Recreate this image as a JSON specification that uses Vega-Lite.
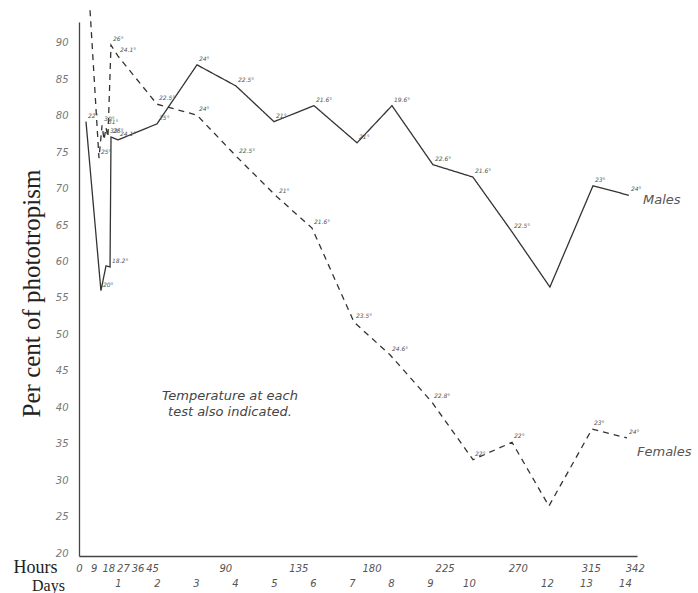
{
  "$schema": "https://vega.github.io/schema/vega-lite/v6.json",
  "width": 558,
  "height": 534,
  "autosize": {"type": "none"},
  "padding": {"left": 79, "top": 22, "right": 61, "bottom": 37},
  "background": "white",
  "config": {"view": {"stroke": null}, "axis": {"grid": false}},
  "datasets": {
    "pts": [
      {"s": "Males", "h": 4.3, "v": 79.2, "t": "22°"},
      {"s": "Males", "h": 13.5, "v": 56.0, "t": "20°"},
      {"s": "Males", "h": 16.6, "v": 59.4, "t": ""},
      {"s": "Males", "h": 19.1, "v": 59.25, "t": "18.2°"},
      {"s": "Males", "h": 19.7, "v": 77.1, "t": "26°"},
      {"s": "Males", "h": 24.0, "v": 76.7, "t": "24.1°"},
      {"s": "Males", "h": 48.0, "v": 78.9, "t": "25°"},
      {"s": "Males", "h": 72.6, "v": 87.0, "t": "24°"},
      {"s": "Males", "h": 96.6, "v": 84.1, "t": "22.5°"},
      {"s": "Males", "h": 120.0, "v": 79.2, "t": "21°"},
      {"s": "Males", "h": 144.6, "v": 81.4, "t": "21.6°"},
      {"s": "Males", "h": 171.1, "v": 76.3, "t": "21°"},
      {"s": "Males", "h": 192.6, "v": 81.4, "t": "19.6°"},
      {"s": "Males", "h": 217.8, "v": 73.3, "t": "22.6°"},
      {"s": "Males", "h": 242.4, "v": 71.6, "t": "21.6°"},
      {"s": "Males", "h": 266.4, "v": 64.1, "t": "22.5°"},
      {"s": "Males", "h": 289.8, "v": 56.5, "t": ""},
      {"s": "Males", "h": 316.3, "v": 70.4, "t": "23°"},
      {"s": "Males", "h": 338.4, "v": 69.1, "t": "24°"},
      {"s": "Females", "h": 6.8, "v": 94.5, "t": ""},
      {"s": "Females", "h": 12.3, "v": 74.2, "t": "25°"},
      {"s": "Females", "h": 14.2, "v": 78.7, "t": "30°"},
      {"s": "Females", "h": 15.4, "v": 76.7, "t": ""},
      {"s": "Females", "h": 16.6, "v": 78.4, "t": "31°"},
      {"s": "Females", "h": 17.8, "v": 77.1, "t": "33°"},
      {"s": "Females", "h": 19.7, "v": 89.7, "t": "26°"},
      {"s": "Females", "h": 24.0, "v": 88.2, "t": "24.1°"},
      {"s": "Females", "h": 48.0, "v": 81.6, "t": "22.5°"},
      {"s": "Females", "h": 72.6, "v": 80.1, "t": "24°"},
      {"s": "Females", "h": 97.2, "v": 74.35, "t": "22.5°"},
      {"s": "Females", "h": 121.8, "v": 68.9, "t": "21°"},
      {"s": "Females", "h": 143.4, "v": 64.6, "t": "21.6°"},
      {"s": "Females", "h": 169.2, "v": 51.7, "t": "23.5°"},
      {"s": "Females", "h": 191.4, "v": 47.2, "t": "24.6°"},
      {"s": "Females", "h": 217.2, "v": 40.7, "t": "22.8°"},
      {"s": "Females", "h": 242.5, "v": 32.8, "t": "22°"},
      {"s": "Females", "h": 266.5, "v": 35.2, "t": "22°"},
      {"s": "Females", "h": 289.2, "v": 26.45, "t": ""},
      {"s": "Females", "h": 315.7, "v": 37.0, "t": "23°"},
      {"s": "Females", "h": 337.2, "v": 35.8, "t": "24°"}
    ],
    "names": [
      {"h": 347.1, "v": 68.45, "txt": "Males"},
      {"h": 343.4, "v": 33.9, "txt": "Females"}
    ],
    "note": [
      {"h": 92.9, "v": 41.55, "txt": "Temperature at each\ntest also indicated."}
    ]
  },
  "encoding": {
    "x": {"field": "h", "type": "quantitative", "scale": {"domain": [0, 343.4], "nice": false, "zero": false}, "axis": null},
    "y": {
      "field": "v", "type": "quantitative",
      "scale": {"domain": [19.59, 92.88], "nice": false, "zero": false},
      "axis": {
        "values": [20, 25, 30, 35, 40, 45, 50, 55, 60, 65, 70, 75, 80, 85, 90],
        "ticks": false, "labelPadding": 11, "labelFontSize": 10, "labelFont": "DejaVu Sans",
        "labelFontStyle": "italic", "labelColor": "#777", "labelBaseline": "middle",
        "domainColor": "#444", "domainWidth": 1.3,
        "title": "Per cent of phototropism", "titleFont": "Liberation Serif", "titleFontSize": 25,
        "titleFontWeight": "normal", "titleColor": "#222", "titleAngle": -90,
        "titleX": -48, "titleY": 271, "titleAlign": "center", "titleBaseline": "middle"
      }
    }
  },
  "layer": [
    {
      "data": {"name": "pts"},
      "mark": {"type": "line", "color": "#333", "strokeWidth": 1.3},
      "encoding": {
        "x": {
          "field": "h", "type": "quantitative", "scale": {"domain": [0, 343.4], "nice": false, "zero": false},
          "axis": {
            "orient": "bottom",
            "values": [0, 9, 18, 27, 36, 45, 90, 135, 180, 225, 270, 315, 342],
            "ticks": false, "labelPadding": 7, "labelFontSize": 10, "labelFont": "DejaVu Sans",
            "labelFontStyle": "italic", "labelColor": "#555", "labelOverlap": false, "labelFlush": false,
            "domainColor": "#444", "domainWidth": 1.3,
            "title": "Hours", "titleFont": "Liberation Serif", "titleFontSize": 18, "titleFontWeight": "normal",
            "titleColor": "#222", "titleX": -44, "titleY": 11, "titleAlign": "center", "titleBaseline": "middle"
          }
        },
        "strokeDash": {"field": "s", "type": "nominal", "scale": {"domain": ["Males", "Females"], "range": [[1, 0], [6, 5]]}, "legend": null}
      }
    },
    {
      "data": {"name": "pts"},
      "mark": {"type": "text", "fontSize": 6, "font": "DejaVu Sans", "fontStyle": "italic", "color": "#555", "align": "left", "dx": 2, "dy": -6},
      "encoding": {
        "x": {
          "field": "h", "type": "quantitative", "scale": {"domain": [0, 343.4], "nice": false, "zero": false},
          "axis": {
            "orient": "bottom",
            "values": [24, 48, 72, 96, 120, 144, 168, 192, 216, 240, 288, 312, 336],
            "labelExpr": "format(datum.value / 24, 'd')",
            "offset": 16, "domain": false, "ticks": false, "labelPadding": 6, "labelFontSize": 10,
            "labelFont": "DejaVu Sans", "labelFontStyle": "italic", "labelColor": "#555",
            "labelOverlap": false, "labelFlush": false,
            "title": "Days", "titleFont": "Liberation Serif", "titleFontSize": 16, "titleFontWeight": "normal",
            "titleColor": "#222", "titleX": -31, "titleY": 13, "titleAlign": "center", "titleBaseline": "middle"
          }
        },
        "text": {"field": "t", "type": "nominal"}
      }
    },
    {
      "data": {"name": "names"},
      "mark": {"type": "text", "fontSize": 13, "font": "DejaVu Sans", "fontStyle": "italic", "color": "#555", "align": "left", "baseline": "middle"},
      "encoding": {"text": {"field": "txt", "type": "nominal"}}
    },
    {
      "data": {"name": "note"},
      "mark": {"type": "text", "fontSize": 13, "font": "DejaVu Sans", "fontStyle": "italic", "color": "#444", "align": "center", "baseline": "middle", "lineBreak": "\n", "lineHeight": 16},
      "encoding": {"text": {"field": "txt", "type": "nominal"}}
    }
  ],
  "resolve": {"axis": {"x": "independent"}}
}
